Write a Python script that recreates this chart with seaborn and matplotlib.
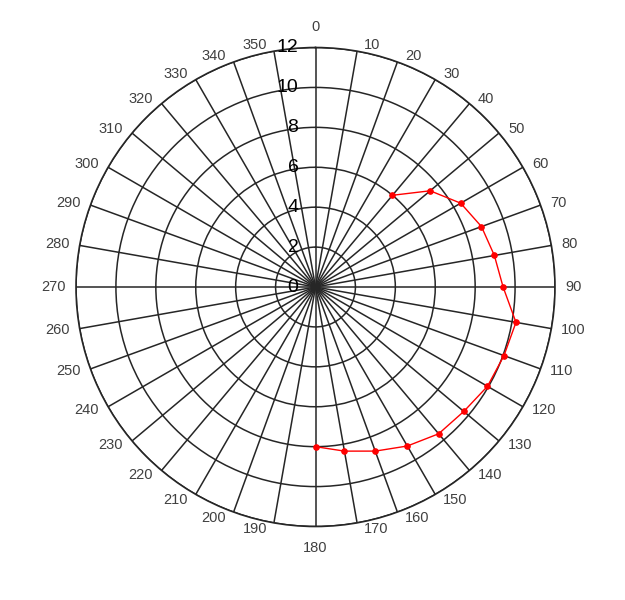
import numpy as np
import matplotlib
matplotlib.use("Agg")
import matplotlib.pyplot as plt
import matplotlib.transforms as mtransforms
import seaborn as sns

# angle (degrees) and radius of the red series
angles_deg = [40, 50, 60, 70, 80, 90, 100, 110, 120, 130, 140, 150, 160, 170, 180]
radii = [6.0, 7.5, 8.4, 8.85, 9.1, 9.4, 10.2, 10.05, 9.95, 9.7, 9.6, 9.2, 8.75, 8.35, 8.0]

angle_ticks = list(range(0, 360, 10))
r_ticks = [0, 2, 4, 6, 8, 10, 12]
r_max = 12

sns.set_style("white")
plt.rcParams['font.family'] = ['Liberation Sans', 'DejaVu Sans']

fig = plt.figure(figsize=(6.25, 6), dpi=100)
ax = fig.add_axes([0.1216, 0.1225, 0.7664, 0.7983], projection='polar')
ax.set_theta_zero_location('N')
ax.set_theta_direction(-1)
ax.set_ylim(0, r_max)

ax.set_xticks(np.deg2rad(angle_ticks))
ax.set_xticklabels([])
ax.set_yticks(r_ticks[1:])
ax.set_yticklabels([])
ax.grid(True, color='#262626', linewidth=1.1)
ax.spines['polar'].set_color('#262626')
ax.spines['polar'].set_linewidth(1.2)

# angle labels hugging the outer ring
for a in angle_ticks:
    s, c = np.sin(np.deg2rad(a)), np.cos(np.deg2rad(a))
    if abs(s) < 0.01:
        ha, dx, dy = 'center', 0, 21 * np.sign(c)
    else:
        ha = 'left' if s > 0 else 'right'
        dx = np.sign(s) * (6 + 4 * abs(s))
        dy = 6 * c
    tr = mtransforms.offset_copy(ax.transData, fig=fig, x=dx, y=dy, units='dots')
    ax.text(np.deg2rad(a), r_max, str(a), transform=tr, ha=ha, va='center',
            fontsize=10.5, color='#404040')

# radial labels along the 0 spoke, slightly left
offset = mtransforms.offset_copy(ax.transData, fig=fig, x=-17, y=0, units='dots')
for r in r_ticks:
    ax.text(0, r, str(r), transform=offset, ha='right', va='center',
            fontsize=14, color='black')

sns.lineplot(x=np.deg2rad(angles_deg), y=radii, ax=ax, color='red',
             linewidth=1.0, marker='o', markersize=4, markeredgecolor='red',
             sort=False)
ax.set_xlabel('')
ax.set_ylabel('')

fig.savefig('out.png', dpi=100)
